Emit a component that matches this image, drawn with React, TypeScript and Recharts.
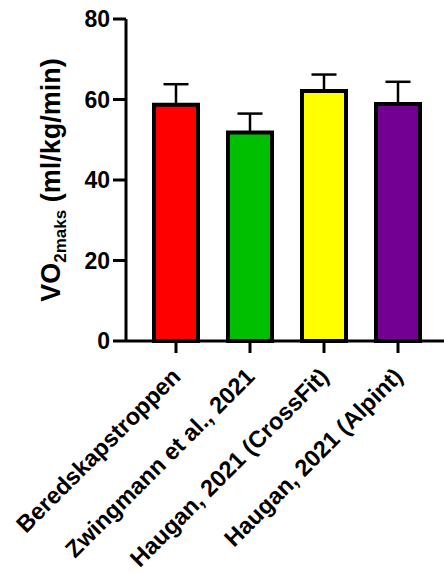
import { Bar, BarChart, ErrorBar, XAxis, YAxis, Cell, Label } from 'recharts';

const groups = [
  'Beredskapstroppen',
  'Zwingmann et al., 2021',
  'Haugan, 2021 (CrossFit)',
  'Haugan, 2021 (Alpint)',
];
const meanVo2 = [58.7, 51.8, 62.1, 58.9];
const sdVo2 = [5.1, 4.7, 4.1, 5.5];
const barColors = ['#ff0000', '#00bf00', '#ffff00', '#730093'];
const yTicks = [0, 20, 40, 60, 80];

const FONT = '"Liberation Sans", Arial, sans-serif';

const chartData = groups.map((name, i) => ({
  name,
  mean: meanVo2[i],
  // upper-only error bar, like the usual mean + SD plot
  err: [0, sdVo2[i]],
}));

function GroupTick({ x, y, payload }: any) {
  const ax = x + 6;
  const ay = y + 23;
  return (
    <text
      x={ax}
      y={ay}
      transform={`rotate(-45, ${ax}, ${ay})`}
      textAnchor="end"
      fontFamily={FONT}
      fontWeight="bold"
      fontSize={23.5}
      fill="#000"
    >
      {payload.value}
    </text>
  );
}

function YTitle({ viewBox }: any) {
  const cy = viewBox.y + viewBox.height / 2;
  const bx = 60;
  return (
    <text
      x={bx}
      y={cy}
      transform={`rotate(-90, ${bx}, ${cy})`}
      textAnchor="middle"
      fontFamily={FONT}
      fontWeight="bold"
      fontSize={27}
      fill="#000"
    >
      VO
      <tspan fontSize={17} dy={6}>2maks</tspan>
      <tspan dy={-6}> (ml/kg/min)</tspan>
    </text>
  );
}

export default function App() {
  return (
    <div style={{ position: 'absolute', left: 0, top: 0, background: '#fff' }}>
      <BarChart
        width={444}
        height={573}
        data={chartData}
        margin={{ top: 19, right: 0, left: 0, bottom: 0 }}
      >
        <XAxis
          dataKey="name"
          interval={0}
          height={232}
          padding={{ left: 13, right: 9 }}
          axisLine={{ stroke: '#000', strokeWidth: 3 }}
          tickLine={{ stroke: '#000', strokeWidth: 3 }}
          tickSize={12}
          tick={<GroupTick />}
        />
        <YAxis
          width={126}
          domain={[0, 80]}
          ticks={yTicks}
          interval={0}
          axisLine={{ stroke: '#000', strokeWidth: 3 }}
          tickLine={{ stroke: '#000', strokeWidth: 3 }}
          tickSize={13}
          tickMargin={3}
          tick={{ fontFamily: FONT, fontWeight: 'bold', fontSize: 23, fill: '#000' }}
        >
          <Label content={<YTitle />} />
        </YAxis>
        <Bar dataKey="mean" barSize={44} stroke="#000" strokeWidth={4} isAnimationActive={false}>
          {chartData.map((d, i) => (
            <Cell key={d.name} fill={barColors[i]} />
          ))}
          <ErrorBar dataKey="err" direction="y" width={12.5} stroke="#000" strokeWidth={2.5} />
        </Bar>
      </BarChart>
    </div>
  );
}
